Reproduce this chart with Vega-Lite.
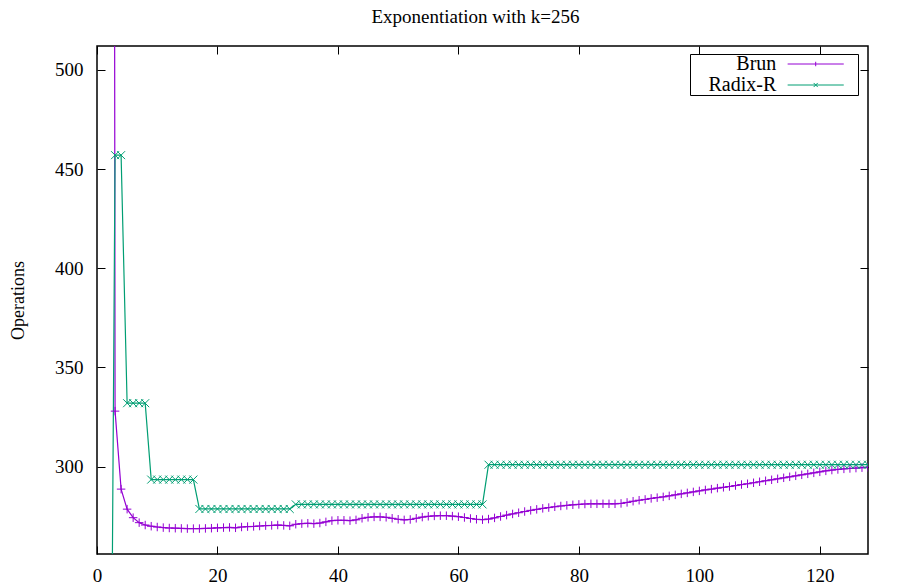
{
  "$schema": "https://vega.github.io/schema/vega-lite/v6.json",
  "autosize": "none",
  "width": 771,
  "height": 508,
  "padding": {"left": 97, "top": 46, "right": 56, "bottom": 31},
  "title": {"text": "Exponentiation with k=256", "font": "Liberation Serif", "fontSize": 19, "fontWeight": "normal", "color": "black", "offset": 19, "dx": -7},
  "data": {"values": [
    {"n":2,"s":"Brun","v":3000},{"n":3,"s":"Brun","v":328},{"n":4,"s":"Brun","v":288.7},{"n":5,"s":"Brun","v":278.6},{"n":6,"s":"Brun","v":274.3},{"n":7,"s":"Brun","v":271.8},{"n":8,"s":"Brun","v":270.6},{"n":9,"s":"Brun","v":270},{"n":10,"s":"Brun","v":269.6},{"n":11,"s":"Brun","v":269.3},{"n":12,"s":"Brun","v":269.1},{"n":13,"s":"Brun","v":269},{"n":14,"s":"Brun","v":268.9},{"n":15,"s":"Brun","v":268.8},{"n":16,"s":"Brun","v":268.8},{"n":17,"s":"Brun","v":268.8},{"n":18,"s":"Brun","v":268.9},{"n":19,"s":"Brun","v":269},{"n":20,"s":"Brun","v":269.2},{"n":21,"s":"Brun","v":269.3},{"n":22,"s":"Brun","v":269.4},{"n":23,"s":"Brun","v":269.2},{"n":24,"s":"Brun","v":269.6},{"n":25,"s":"Brun","v":269.8},{"n":26,"s":"Brun","v":269.9},{"n":27,"s":"Brun","v":270.1},{"n":28,"s":"Brun","v":270.3},{"n":29,"s":"Brun","v":270.4},{"n":30,"s":"Brun","v":270.6},{"n":31,"s":"Brun","v":270.4},{"n":32,"s":"Brun","v":270.2},{"n":33,"s":"Brun","v":271},{"n":34,"s":"Brun","v":271.3},{"n":35,"s":"Brun","v":271.5},{"n":36,"s":"Brun","v":271.3},{"n":37,"s":"Brun","v":271.6},{"n":38,"s":"Brun","v":272.2},{"n":39,"s":"Brun","v":272.8},{"n":40,"s":"Brun","v":273},{"n":41,"s":"Brun","v":273},{"n":42,"s":"Brun","v":272.8},{"n":43,"s":"Brun","v":273.2},{"n":44,"s":"Brun","v":274},{"n":45,"s":"Brun","v":274.5},{"n":46,"s":"Brun","v":274.7},{"n":47,"s":"Brun","v":274.7},{"n":48,"s":"Brun","v":274.5},{"n":49,"s":"Brun","v":274},{"n":50,"s":"Brun","v":273.5},{"n":51,"s":"Brun","v":273.2},{"n":52,"s":"Brun","v":273.4},{"n":53,"s":"Brun","v":274},{"n":54,"s":"Brun","v":274.6},{"n":55,"s":"Brun","v":275},{"n":56,"s":"Brun","v":275.2},{"n":57,"s":"Brun","v":275.3},{"n":58,"s":"Brun","v":275.3},{"n":59,"s":"Brun","v":275.1},{"n":60,"s":"Brun","v":274.8},{"n":61,"s":"Brun","v":274.4},{"n":62,"s":"Brun","v":273.9},{"n":63,"s":"Brun","v":273.5},{"n":64,"s":"Brun","v":273.3},{"n":65,"s":"Brun","v":273.6},{"n":66,"s":"Brun","v":274.2},{"n":67,"s":"Brun","v":274.9},{"n":68,"s":"Brun","v":275.6},{"n":69,"s":"Brun","v":276.2},{"n":70,"s":"Brun","v":276.8},{"n":71,"s":"Brun","v":277.4},{"n":72,"s":"Brun","v":278},{"n":73,"s":"Brun","v":278.5},{"n":74,"s":"Brun","v":279},{"n":75,"s":"Brun","v":279.4},{"n":76,"s":"Brun","v":279.8},{"n":77,"s":"Brun","v":280.2},{"n":78,"s":"Brun","v":280.5},{"n":79,"s":"Brun","v":280.8},{"n":80,"s":"Brun","v":281},{"n":81,"s":"Brun","v":281.2},{"n":82,"s":"Brun","v":281.3},{"n":83,"s":"Brun","v":281.3},{"n":84,"s":"Brun","v":281.3},{"n":85,"s":"Brun","v":281.3},{"n":86,"s":"Brun","v":281.3},{"n":87,"s":"Brun","v":281.5},{"n":88,"s":"Brun","v":282},{"n":89,"s":"Brun","v":282.6},{"n":90,"s":"Brun","v":283.1},{"n":91,"s":"Brun","v":283.5},{"n":92,"s":"Brun","v":284},{"n":93,"s":"Brun","v":284.4},{"n":94,"s":"Brun","v":284.8},{"n":95,"s":"Brun","v":285.3},{"n":96,"s":"Brun","v":285.8},{"n":97,"s":"Brun","v":286.3},{"n":98,"s":"Brun","v":286.8},{"n":99,"s":"Brun","v":287.3},{"n":100,"s":"Brun","v":287.8},{"n":101,"s":"Brun","v":288.3},{"n":102,"s":"Brun","v":288.7},{"n":103,"s":"Brun","v":289.2},{"n":104,"s":"Brun","v":289.6},{"n":105,"s":"Brun","v":290},{"n":106,"s":"Brun","v":290.5},{"n":107,"s":"Brun","v":291},{"n":108,"s":"Brun","v":291.4},{"n":109,"s":"Brun","v":291.9},{"n":110,"s":"Brun","v":292.4},{"n":111,"s":"Brun","v":292.9},{"n":112,"s":"Brun","v":293.4},{"n":113,"s":"Brun","v":293.9},{"n":114,"s":"Brun","v":294.4},{"n":115,"s":"Brun","v":294.9},{"n":116,"s":"Brun","v":295.4},{"n":117,"s":"Brun","v":295.9},{"n":118,"s":"Brun","v":296.4},{"n":119,"s":"Brun","v":296.9},{"n":120,"s":"Brun","v":297.4},{"n":121,"s":"Brun","v":297.9},{"n":122,"s":"Brun","v":298.3},{"n":123,"s":"Brun","v":298.6},{"n":124,"s":"Brun","v":298.9},{"n":125,"s":"Brun","v":299.1},{"n":126,"s":"Brun","v":299.3},{"n":127,"s":"Brun","v":299.5},{"n":128,"s":"Brun","v":299.7},
    {"n":2,"s":"Radix-R","v":0},{"n":3,"s":"Radix-R","v":457},{"n":4,"s":"Radix-R","v":457},{"n":5,"s":"Radix-R","v":332},{"n":6,"s":"Radix-R","v":332},{"n":7,"s":"Radix-R","v":332},{"n":8,"s":"Radix-R","v":332},{"n":9,"s":"Radix-R","v":293.5},{"n":10,"s":"Radix-R","v":293.5},{"n":11,"s":"Radix-R","v":293.5},{"n":12,"s":"Radix-R","v":293.5},{"n":13,"s":"Radix-R","v":293.5},{"n":14,"s":"Radix-R","v":293.5},{"n":15,"s":"Radix-R","v":293.5},{"n":16,"s":"Radix-R","v":293.5},{"n":17,"s":"Radix-R","v":278.7},{"n":18,"s":"Radix-R","v":278.7},{"n":19,"s":"Radix-R","v":278.7},{"n":20,"s":"Radix-R","v":278.7},{"n":21,"s":"Radix-R","v":278.7},{"n":22,"s":"Radix-R","v":278.7},{"n":23,"s":"Radix-R","v":278.7},{"n":24,"s":"Radix-R","v":278.7},{"n":25,"s":"Radix-R","v":278.7},{"n":26,"s":"Radix-R","v":278.7},{"n":27,"s":"Radix-R","v":278.7},{"n":28,"s":"Radix-R","v":278.7},{"n":29,"s":"Radix-R","v":278.7},{"n":30,"s":"Radix-R","v":278.7},{"n":31,"s":"Radix-R","v":278.7},{"n":32,"s":"Radix-R","v":278.7},{"n":33,"s":"Radix-R","v":281},{"n":34,"s":"Radix-R","v":281},{"n":35,"s":"Radix-R","v":281},{"n":36,"s":"Radix-R","v":281},{"n":37,"s":"Radix-R","v":281},{"n":38,"s":"Radix-R","v":281},{"n":39,"s":"Radix-R","v":281},{"n":40,"s":"Radix-R","v":281},{"n":41,"s":"Radix-R","v":281},{"n":42,"s":"Radix-R","v":281},{"n":43,"s":"Radix-R","v":281},{"n":44,"s":"Radix-R","v":281},{"n":45,"s":"Radix-R","v":281},{"n":46,"s":"Radix-R","v":281},{"n":47,"s":"Radix-R","v":281},{"n":48,"s":"Radix-R","v":281},{"n":49,"s":"Radix-R","v":281},{"n":50,"s":"Radix-R","v":281},{"n":51,"s":"Radix-R","v":281},{"n":52,"s":"Radix-R","v":281},{"n":53,"s":"Radix-R","v":281},{"n":54,"s":"Radix-R","v":281},{"n":55,"s":"Radix-R","v":281},{"n":56,"s":"Radix-R","v":281},{"n":57,"s":"Radix-R","v":281},{"n":58,"s":"Radix-R","v":281},{"n":59,"s":"Radix-R","v":281},{"n":60,"s":"Radix-R","v":281},{"n":61,"s":"Radix-R","v":281},{"n":62,"s":"Radix-R","v":281},{"n":63,"s":"Radix-R","v":281},{"n":64,"s":"Radix-R","v":281},{"n":65,"s":"Radix-R","v":301},{"n":66,"s":"Radix-R","v":301},{"n":67,"s":"Radix-R","v":301},{"n":68,"s":"Radix-R","v":301},{"n":69,"s":"Radix-R","v":301},{"n":70,"s":"Radix-R","v":301},{"n":71,"s":"Radix-R","v":301},{"n":72,"s":"Radix-R","v":301},{"n":73,"s":"Radix-R","v":301},{"n":74,"s":"Radix-R","v":301},{"n":75,"s":"Radix-R","v":301},{"n":76,"s":"Radix-R","v":301},{"n":77,"s":"Radix-R","v":301},{"n":78,"s":"Radix-R","v":301},{"n":79,"s":"Radix-R","v":301},{"n":80,"s":"Radix-R","v":301},{"n":81,"s":"Radix-R","v":301},{"n":82,"s":"Radix-R","v":301},{"n":83,"s":"Radix-R","v":301},{"n":84,"s":"Radix-R","v":301},{"n":85,"s":"Radix-R","v":301},{"n":86,"s":"Radix-R","v":301},{"n":87,"s":"Radix-R","v":301},{"n":88,"s":"Radix-R","v":301},{"n":89,"s":"Radix-R","v":301},{"n":90,"s":"Radix-R","v":301},{"n":91,"s":"Radix-R","v":301},{"n":92,"s":"Radix-R","v":301},{"n":93,"s":"Radix-R","v":301},{"n":94,"s":"Radix-R","v":301},{"n":95,"s":"Radix-R","v":301},{"n":96,"s":"Radix-R","v":301},{"n":97,"s":"Radix-R","v":301},{"n":98,"s":"Radix-R","v":301},{"n":99,"s":"Radix-R","v":301},{"n":100,"s":"Radix-R","v":301},{"n":101,"s":"Radix-R","v":301},{"n":102,"s":"Radix-R","v":301},{"n":103,"s":"Radix-R","v":301},{"n":104,"s":"Radix-R","v":301},{"n":105,"s":"Radix-R","v":301},{"n":106,"s":"Radix-R","v":301},{"n":107,"s":"Radix-R","v":301},{"n":108,"s":"Radix-R","v":301},{"n":109,"s":"Radix-R","v":301},{"n":110,"s":"Radix-R","v":301},{"n":111,"s":"Radix-R","v":301},{"n":112,"s":"Radix-R","v":301},{"n":113,"s":"Radix-R","v":301},{"n":114,"s":"Radix-R","v":301},{"n":115,"s":"Radix-R","v":301},{"n":116,"s":"Radix-R","v":301},{"n":117,"s":"Radix-R","v":301},{"n":118,"s":"Radix-R","v":301},{"n":119,"s":"Radix-R","v":301},{"n":120,"s":"Radix-R","v":301},{"n":121,"s":"Radix-R","v":301},{"n":122,"s":"Radix-R","v":301},{"n":123,"s":"Radix-R","v":301},{"n":124,"s":"Radix-R","v":301},{"n":125,"s":"Radix-R","v":301},{"n":126,"s":"Radix-R","v":301},{"n":127,"s":"Radix-R","v":301},{"n":128,"s":"Radix-R","v":301}
  ]},
  "resolve": {"axis": {"x": "independent", "y": "independent"}},
  "layer": [
    {
      "mark": {"type": "line", "clip": true, "strokeWidth": 1.2},
      "encoding": {
        "x": {"field": "n", "type": "quantitative", "scale": {"domain": [0, 128], "nice": false, "zero": false},
              "axis": {"orient": "bottom", "values": [0,20,40,60,80,100,120], "title": null, "grid": false, "domain": false, "tickSize": -8, "tickColor": "black", "labelPadding": 20, "labelFont": "Liberation Serif", "labelFontSize": 19, "labelColor": "black", "labelFlush": false}},
        "y": {"field": "v", "type": "quantitative", "scale": {"domain": [256, 512], "nice": false, "zero": false},
              "axis": {"orient": "left", "values": [300,350,400,450,500], "title": "Operations", "grid": false, "domain": false, "tickSize": -8, "tickColor": "black", "labelPadding": 22, "labelFont": "Liberation Serif", "labelFontSize": 19, "labelColor": "black", "titleFont": "Liberation Serif", "titleFontSize": 18, "titleFontWeight": "normal", "titleColor": "black", "titlePadding": 27}},
        "color": {"field": "s", "type": "nominal", "scale": {"domain": ["Brun", "Radix-R"], "range": ["#9400D3", "#009E73"]},
                  "legend": {"title": null, "orient": "none", "legendX": 593, "legendY": 8, "strokeColor": "black", "fillColor": "white", "padding": 0, "labelFont": "Liberation Serif", "labelFontSize": 20, "labelColor": "black", "labelAlign": "right", "labelOffset": -49.4, "symbolOffset": 115.7, "symbolSize": 350, "symbolStrokeWidth": 1, "rowPadding": 1,
                    "encode": {"symbols": {"update": {"shape": {"signal": "datum.value === 'Brun' ? 'M-3,0L3,0M0,-0.24L0,0.24M4.3,0L4.3,0' : 'M-3,0L3,0M-0.22,-0.22L0.22,0.22M-0.22,0.22L0.22,-0.22M4.3,0L4.3,0'"}, "strokeWidth": {"value": 1}}}}}}
      }
    },
    {
      "transform": [{"filter": "datum.s === 'Brun'"}],
      "mark": {"type": "point", "clip": true, "filled": false, "size": 72, "strokeWidth": 1, "opacity": 1, "color": "#9400D3", "shape": "M-1,0L1,0M0,-1L0,1"},
      "encoding": {
        "x": {"field": "n", "type": "quantitative", "scale": {"domain": [0, 128], "nice": false, "zero": false},
              "axis": {"orient": "top", "values": [0,20,40,60,80,100,120], "labels": false, "title": null, "grid": false, "domain": false, "tickSize": -8, "tickColor": "black"}},
        "y": {"field": "v", "type": "quantitative", "scale": {"domain": [256, 512], "nice": false, "zero": false},
              "axis": {"orient": "right", "values": [300,350,400,450,500], "labels": false, "title": null, "grid": false, "domain": false, "tickSize": -8, "tickColor": "black"}}
      }
    },
    {
      "transform": [{"filter": "datum.s === 'Radix-R'"}],
      "mark": {"type": "point", "clip": true, "filled": false, "size": 64, "strokeWidth": 1, "opacity": 1, "color": "#009E73", "shape": "M-1,-1L1,1M-1,1L1,-1"},
      "encoding": {
        "x": {"field": "n", "type": "quantitative", "axis": null},
        "y": {"field": "v", "type": "quantitative", "axis": null}
      }
    }
  ],
  "config": {
    "view": {"stroke": "black", "strokeWidth": 1.5},
    "background": "white"
  }
}
